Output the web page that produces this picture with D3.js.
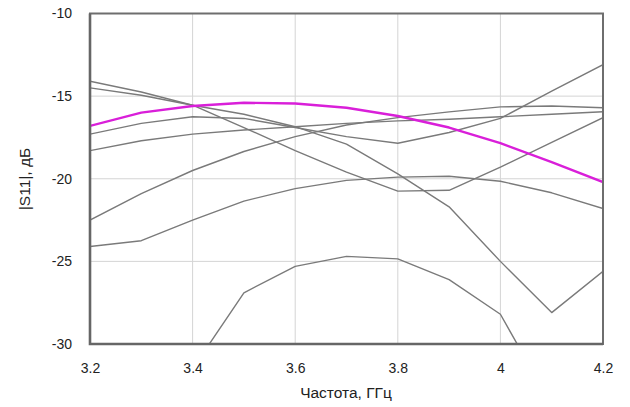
<!DOCTYPE html>
<html>
<head>
<meta charset="utf-8">
<script src="https://cdn.jsdelivr.net/npm/d3@7/dist/d3.min.js"></script>
<style>
  html, body { margin: 0; padding: 0; background: #ffffff; }
  svg { display: block; }
  text { font-family: "Liberation Sans", Arial, sans-serif; }
</style>
</head>
<body>
<svg id="chart" width="630" height="407"></svg>
<script>
// ---- data ----
const freqs = [3.2, 3.3, 3.4, 3.5, 3.6, 3.7, 3.8, 3.9, 4.0, 4.1, 4.2];
const xTicks = [3.2, 3.4, 3.6, 3.8, 4.0, 4.2];
const xTickLabels = ["3.2", "3.4", "3.6", "3.8", "4", "4.2"];
const yTicks = [-30, -25, -20, -15, -10];
const yTickLabels = ["-30", "-25", "-20", "-15", "-10"];
const xTitle = "Частота, ГГц";
const yTitle = "|S11|, дБ";

// highlighted (magenta) curve
const mainSeries = [-16.8, -16.0, -15.6, -15.4, -15.45, -15.7, -16.2, -16.9, -17.85, -19.0, -20.2];

// gray curves
const gray1 = [-14.1, -14.75, -15.55, -16.9, -18.3, -19.6, -20.75, -20.7, -19.3, -17.8, -16.3];
const gray2 = [-14.5, -14.95, -15.55, -16.1, -16.85, -17.9, -19.7, -21.7, -25.0, -28.1, -25.6];
const gray3 = [-17.3, -16.65, -16.25, -16.35, -16.9, -17.45, -17.85, -17.2, -16.35, -14.7, -13.1];
const gray4 = [-18.3, -17.7, -17.3, -17.05, -16.85, -16.65, -16.5, -16.4, -16.25, -16.1, -15.95];
const gray5 = [-22.5, -20.9, -19.5, -18.35, -17.45, -16.75, -16.3, -15.95, -15.65, -15.6, -15.7];
const gray6 = [-24.1, -23.75, -22.5, -21.35, -20.6, -20.1, -19.9, -19.85, -20.15, -20.85, -21.8];
const gray7 = [null, null, -31.5, -26.9, -25.3, -24.7, -24.85, -26.1, -28.2, -33.7, null];

const grayList = [gray1, gray2, gray3, gray4, gray5, gray6, gray7];

// ---- drawing ----
const svg = d3.select("#chart");
const pL = 90, pR = 603, pT = 13.5, pB = 344;

const x = d3.scaleLinear().domain([3.2, 4.2]).range([pL, pR]);
const y = d3.scaleLinear().domain([-30, -10]).range([pB, pT]);

svg.append("defs").append("clipPath").attr("id", "plotClip")
  .append("rect").attr("x", pL).attr("y", pT)
  .attr("width", pR - pL).attr("height", pB - pT);

// gridlines
const grid = svg.append("g");
grid.selectAll("line.vg").data(xTicks.slice(1, -1)).enter().append("line")
  .attr("x1", d => x(d)).attr("x2", d => x(d))
  .attr("y1", pT).attr("y2", pB)
  .attr("stroke", "#d4d4d4").attr("stroke-width", 1);
grid.selectAll("line.hg").data(yTicks.slice(1, -1)).enter().append("line")
  .attr("x1", pL).attr("x2", pR)
  .attr("y1", d => y(d)).attr("y2", d => y(d))
  .attr("stroke", "#d4d4d4").attr("stroke-width", 1);

const line = d3.line()
  .defined(d => d[1] !== null)
  .x(d => x(d[0])).y(d => y(d[1]));

const plot = svg.append("g").attr("clip-path", "url(#plotClip)");
grayList.forEach(s => {
  plot.append("path")
    .datum(freqs.map((f, i) => [f, s[i]]))
    .attr("d", line)
    .attr("fill", "none")
    .attr("stroke", "#7a7a7a")
    .attr("stroke-width", 1.4)
    .attr("stroke-linejoin", "round");
});
plot.append("path")
  .datum(freqs.map((f, i) => [f, mainSeries[i]]))
  .attr("d", line)
  .attr("fill", "none")
  .attr("stroke", "#d91fd9")
  .attr("stroke-width", 2.4)
  .attr("stroke-linejoin", "round");

// frame
svg.append("rect")
  .attr("x", pL).attr("y", pT)
  .attr("width", pR - pL).attr("height", pB - pT)
  .attr("fill", "none").attr("stroke", "#6e6e6e").attr("stroke-width", 2);
svg.append("path")
  .attr("d", `M${pL},${pT}V${pB}H${pR}`)
  .attr("fill", "none").attr("stroke", "#666").attr("stroke-width", 2.6);

// axes (labels only, no tick marks)
const xAxis = d3.axisBottom(x).tickValues(xTicks)
  .tickFormat((d, i) => xTickLabels[i]).tickSize(0).tickPadding(19);
const gx = svg.append("g").attr("transform", `translate(0,${pB})`).call(xAxis);
gx.select(".domain").remove();
gx.selectAll("text").attr("font-size", 14).attr("fill", "#222")
  .attr("font-family", "Liberation Sans, Arial, sans-serif");

const yAxis = d3.axisLeft(y).tickValues(yTicks)
  .tickFormat((d, i) => yTickLabels[i]).tickSize(0).tickPadding(18);
const gy = svg.append("g").attr("transform", `translate(${pL},0)`).call(yAxis);
gy.select(".domain").remove();
gy.selectAll("text").attr("font-size", 14).attr("fill", "#222")
  .attr("font-family", "Liberation Sans, Arial, sans-serif");

// titles
svg.append("text")
  .attr("x", 346).attr("y", 398)
  .attr("text-anchor", "middle")
  .attr("font-size", 15.5).attr("fill", "#222")
  .text(xTitle);
svg.append("text")
  .attr("transform", "translate(30,179) rotate(-90)")
  .attr("text-anchor", "middle")
  .attr("font-size", 15.5).attr("fill", "#222")
  .text(yTitle);
</script>
</body>
</html>
